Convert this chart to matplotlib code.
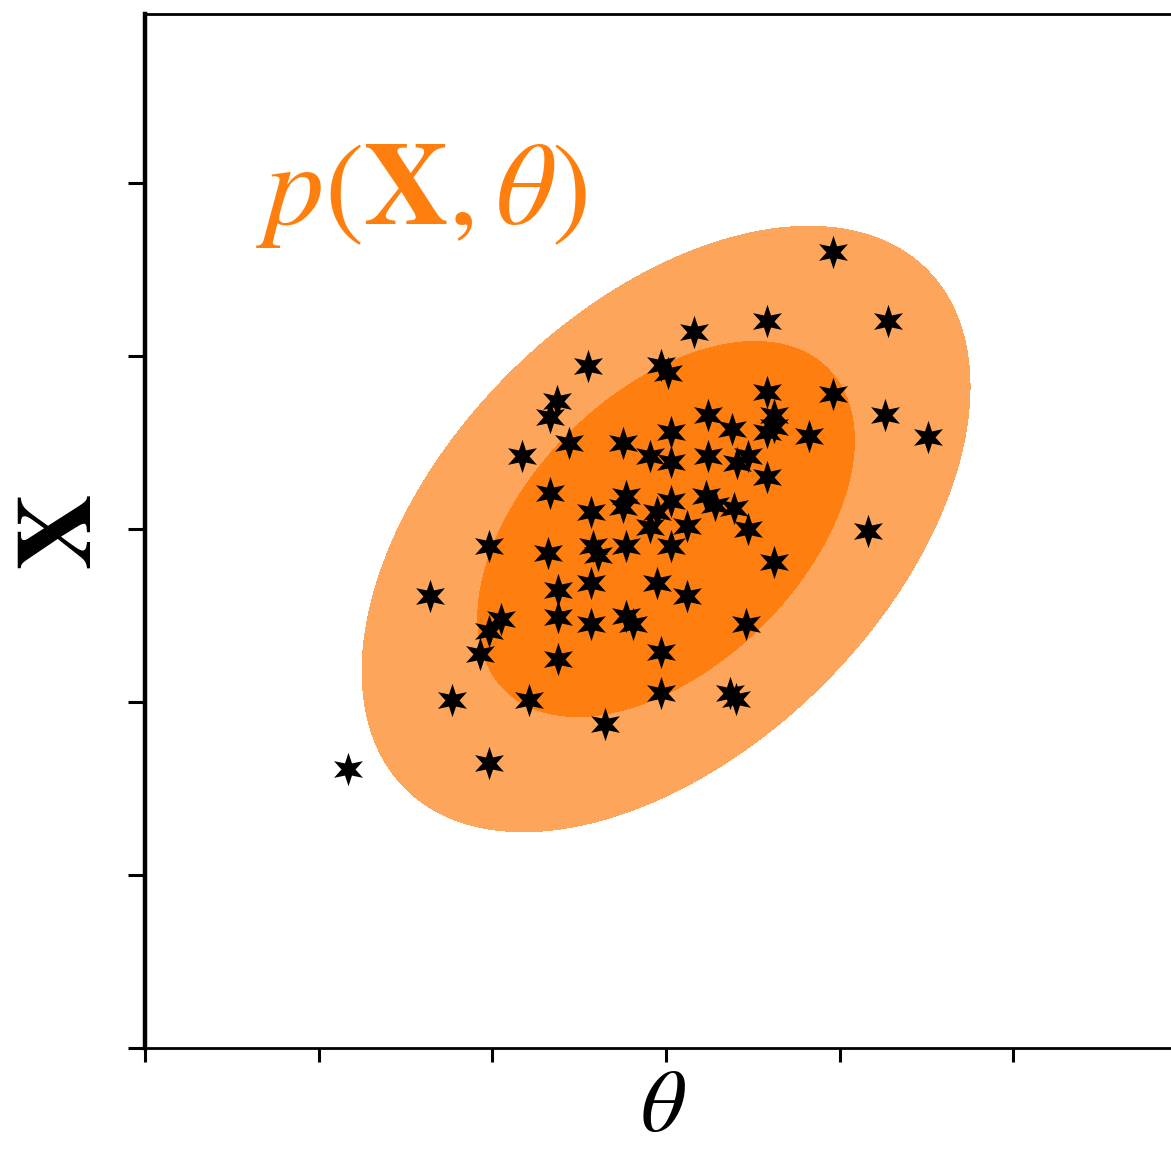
import numpy as np
import matplotlib
matplotlib.use("Agg")
import matplotlib.pyplot as plt
from matplotlib.path import Path

plt.rcParams["mathtext.fontset"] = "stix"
plt.rcParams["font.family"] = "STIXGeneral"

# samples (theta, X)
theta = [0.96, 0.58, 1.28, 0.16, -0.45, -0.03, 0.01, 0.58, 0.96, -0.63,
         -0.67, 1.26, 0.24, 0.62, 1.51, 0.82, -0.25, -0.56, 0.03, 0.38,
         0.58, 0.62, -0.83, -0.09, 0.03, 0.24, 0.41, 0.47, 0.58, -0.67,
         -0.23, -0.25, 0.03, 0.23, 0.28, 0.39, -0.43, -0.05, -0.09, 0.12,
         0.47, 1.16, -1.02, -0.68, -0.42, -0.39, -0.23, 0.03, 0.62, -0.62,
         -0.43, -0.05, 0.12, -1.36, -0.95, -1.02, -1.07, -0.62, -0.43, -0.23,
         -0.19, 0.46, -0.62, -0.03, -1.23, -0.79, -0.03, 0.37, -0.35, -1.02,
         -1.83, 0.40]
xs = [1.60, 1.20, 1.20, 1.14, 0.94, 0.95, 0.90, 0.79, 0.78, 0.74,
      0.65, 0.66, 0.66, 0.66, 0.53, 0.54, 0.50, 0.50, 0.56, 0.58,
      0.56, 0.59, 0.42, 0.42, 0.39, 0.42, 0.38, 0.42, 0.30, 0.21,
      0.19, 0.13, 0.16, 0.19, 0.14, 0.12, 0.10, 0.10, 0.01, 0.02,
      0.00, -0.01, -0.10, -0.14, -0.10, -0.15, -0.10, -0.10, -0.19, -0.35,
      -0.31, -0.31, -0.39, -0.39, -0.52, -0.59, -0.72, -0.51, -0.55, -0.50,
      -0.55, -0.55, -0.75, -0.71, -0.99, -0.99, -0.95, -0.95, -1.13, -1.35,
      -1.39, -0.98]

# joint density p(X, theta): mean, covariance and the two contour radii
mean = [0.0, 0.0]
cov = [[1.0, 0.47], [0.47, 1.0]]
radii = [1.09, 1.75]
fill_colors = ["#fe7f10", "#fda55a"]

# thin six-pointed star, one point up
ang = np.pi / 2 + np.arange(12) * np.pi / 6
rad = np.where(np.arange(12) % 2 == 0, 1.0, 0.42)
star_verts = np.column_stack([rad * np.cos(ang), rad * np.sin(ang)])
star = Path(np.vstack([star_verts, star_verts[:1]]), closed=True)

fig = plt.figure(figsize=(11.71, 11.53), dpi=100)
ax = fig.add_axes([145 / 1171, 105 / 1153, 1026 / 1171, 1034 / 1153])

# filled ellipses from the Mahalanobis distance on a grid
gx, gy = np.meshgrid(np.linspace(-3, 3, 300), np.linspace(-3, 3, 300))
inv = np.linalg.inv(np.array(cov))
dx, dy = gx - mean[0], gy - mean[1]
d2 = inv[0, 0] * dx * dx + 2 * inv[0, 1] * dx * dy + inv[1, 1] * dy * dy
ax.contourf(gx, gy, d2, levels=[0, radii[0] ** 2, radii[1] ** 2],
            colors=fill_colors, zorder=1)

ax.scatter(theta, xs, marker=star, s=580, color="black",
           linewidths=0, zorder=3)

ax.text(0.108, 0.797, r"$p(\mathbf{X},\theta)$", transform=ax.transAxes,
        color="#ff7f0e", fontsize=85, ha="left", va="baseline")

ax.set_xlim(-3, 2.907)
ax.set_ylim(-3, 2.977)
ax.set_xticks([-3, -2, -1, 0, 1, 2])
ax.set_yticks([-3, -2, -1, 0, 1, 2])
ax.set_xticklabels([])
ax.set_yticklabels([])
ax.tick_params(axis="x", direction="out", length=10, width=2.2)
ax.tick_params(axis="y", direction="out", length=12, width=2.2)

ax.spines["right"].set_visible(False)
ax.spines["left"].set_linewidth(3.2)
ax.spines["bottom"].set_linewidth(2.0)
ax.spines["top"].set_linewidth(2.0)

fig.text(663 / 1171, 0.003, r"$\theta$", fontsize=64,
         ha="center", va="bottom")
fig.text(66 / 1171, 1 - 532 / 1153, r"$\mathbf{X}$", fontsize=76,
         rotation=90, ha="center", va="center")

fig.savefig("out.png", dpi=100)
